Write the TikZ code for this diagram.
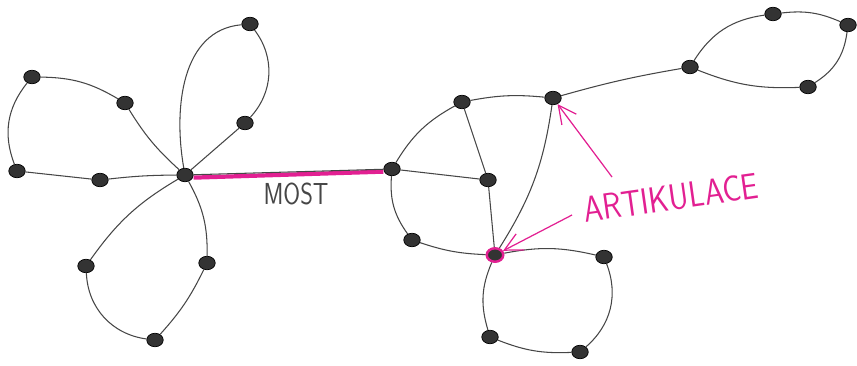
\documentclass[tikz,border=0pt]{standalone}
\usepackage{xcolor}
\usepackage{tikz}
\usetikzlibrary{arrows.meta,shapes.geometric}

\definecolor{hotpink}{RGB}{226,32,146}
\definecolor{pencil}{RGB}{70,70,70}

\begin{document}
\begin{tikzpicture}[
  x=0.02cm, y=-0.02cm,
  vtx/.style={draw=black, fill=black!80, ellipse, inner sep=0pt, minimum width=0.33cm, minimum height=0.27cm},
  edge/.style={draw=pencil, line width=0.6pt},
  label/.style={font=\sffamily, text=hotpink},
  pointer/.style={draw=hotpink, line width=0.7pt, -{Straight Barb[length=3.6mm, width=3.6mm]}}
]
  \useasboundingbox (0,0) rectangle (857,365);

  % Left part: centre and its three loops
  \node[vtx] (hub) at (185,175) {};
  \node[vtx] (a1) at (32,77) {};
  \node[vtx] (a2) at (125,103) {};
  \node[vtx] (a3) at (17,171) {};
  \node[vtx] (a4) at (100,180) {};
  \node[vtx] (b1) at (250,24) {};
  \node[vtx] (b2) at (245,123) {};
  \node[vtx] (d1) at (86,266) {};
  \node[vtx] (d2) at (155,340) {};
  \node[vtx] (d3) at (207,263) {};

  % Right part
  \node[vtx] (e) at (392,169) {};
  \node[vtx] (f) at (462,102) {};
  \node[vtx] (g) at (553,98) {};
  \node[vtx] (h) at (488,180) {};
  \node[vtx] (i) at (412,240) {};
  \node[vtx, draw=hotpink, line width=1.4pt] (j) at (495,255) {};
  \node[vtx] (k) at (690,67) {};
  \node[vtx] (l) at (773,14) {};
  \node[vtx] (m) at (848,25) {};
  \node[vtx] (n) at (808,87) {};
  \node[vtx] (p) at (604,257) {};
  \node[vtx] (q) at (580,352) {};
  \node[vtx] (r) at (490,337) {};

  % Bridge
  \draw[hotpink, line width=2.4pt] ([yshift=-1.5pt]hub.east) -- ([yshift=-1.5pt]e.west);
  \draw[edge] (hub) -- (e);

  % Left loops
  \draw[edge] (hub) to[bend left=8] (a2);
  \draw[edge] (a2) to[bend right=15] (a1);
  \draw[edge] (a1) to[bend right=30] (a3);
  \draw[edge] (a3) -- (a4);
  \draw[edge] (a4) to[bend left=3] (hub);
  \draw[edge] (hub) to[out=100, in=185] (b1);
  \draw[edge] (b1) to[bend left=40] (b2);
  \draw[edge] (b2) -- (hub);
  \draw[edge] (hub) to[bend right=12] (d1);
  \draw[edge] (d1) to[bend right=40] (d2);
  \draw[edge] (d2) to[bend right=8] (d3);
  \draw[edge] (d3) to[bend right=15] (hub);

  % Right block
  \draw[edge] (e) to[bend left=15] (f);
  \draw[edge] (f) to[bend left=8] (g);
  \draw[edge] (f) -- (h);
  \draw[edge] (e) -- (h);
  \draw[edge] (h) -- (j);
  \draw[edge] (e) to[bend right=20] (i);
  \draw[edge] (i) to[bend right=8] (j);
  \draw[edge] (g) to[bend left=12] (j);
  \draw[edge] (g) to[bend left=3] (k);

  % Top right loop
  \draw[edge] (k) to[bend left=25] (l);
  \draw[edge] (l) to[bend left=15] (m);
  \draw[edge] (m) to[bend left=25] (n);
  \draw[edge] (n) to[bend left=12] (k);

  % Bottom loop
  \draw[edge] (j) to[bend left=12] (p);
  \draw[edge] (p) to[bend left=35] (q);
  \draw[edge] (q) to[bend left=12] (r);
  \draw[edge] (r) to[bend left=20] (j);

  % Labels
  \node[font=\sffamily\LARGE, text=pencil] (most) at (296,194) {\scalebox{0.8}[1]{MOST}};
  \node[label, font=\sffamily\huge, rotate=8] (artik) at (671,198) {\scalebox{0.85}[1]{ARTIKULACE}};
  \coordinate (art1) at (612,177);
  \coordinate (art2) at (572,215);
  \draw[pointer] (art1) -- (g);
  \draw[pointer] (art2) -- (j);
\end{tikzpicture}
\end{document}
